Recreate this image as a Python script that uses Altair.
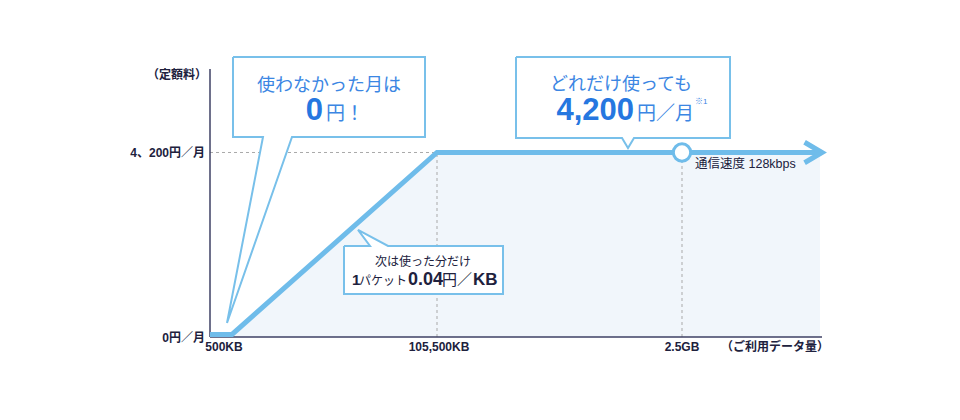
import altair as alt
import pandas as pd

# ---------------- data ----------------
# schematic usage position (x) and monthly fee in yen (y)
line_x = [0, 22, 227, 472, 608]
line_y = [0, 0, 4200, 4200, 4200]
area_x = [0, 22, 227, 472, 610]
area_y = [0, 0, 4200, 4200, 4200]

X_DOMAIN = [0, 612]
Y_DOMAIN = [-58, 6127]
Y_BOTTOM = -58
CAP_X = 472        # 2.5GB point
STEP_X = 227       # 105,500KB point
FLAT_FEE = 4200

x_label_pos = [14, 229, 472, 565]
x_labels = ["500KB", "105,500KB", "2.5GB", "（ご利用データ量）"]
y_label_pos = [5988, 4190, -81]
y_labels = ["（定額料）", "4、200円／月", "0円／月"]

# callout boxes: rect extents and tail triangles
box_grp = ["a", "b", "c"]
box_x1 = [23, 306, 134]
box_x2 = [215, 520, 293]
box_y1 = [4558, 4535, 935]
box_y2 = [6404, 6404, 2042]
# tail: base y, base x (left/right), tip x / y
tail_base_y = [4558, 4535, 2042]
tail_base_l = [53, 412, 160]
tail_base_r = [82, 424, 178]
tail_tip_x = [17, 418, 148]
tail_tip_y = [265, 4304, 2412]

BLUE = "#3b86e3"
BLUE_D = "#2677e0"
LINE = "#6fbcea"
OUT = "#78c0ea"
DARK = "#20213d"
AXIS = "#3e4064"
FILL = "#f1f6fb"
GRID = "#a9a9a9"
FONT = "Liberation Sans, Noto Sans CJK JP"

X = lambda f="x": alt.X(f"{f}:Q", scale=alt.Scale(domain=X_DOMAIN, nice=False, zero=False), axis=None, stack=None)
Y = lambda f="y": alt.Y(f"{f}:Q", scale=alt.Scale(domain=Y_DOMAIN, nice=False, zero=False), axis=None, stack=None)

# ---------------- layers ----------------
area_df = pd.DataFrame({"x": area_x, "y": area_y, "b": [Y_BOTTOM] * len(area_x)})
area = alt.Chart(area_df).mark_area(color=FILL, opacity=1).encode(x=X(), y=Y(), y2="b:Q")

rule_df = pd.DataFrame({
    "x": [0, STEP_X, CAP_X], "x2": [STEP_X, STEP_X, CAP_X],
    "y": [FLAT_FEE, Y_BOTTOM, Y_BOTTOM], "y2": [FLAT_FEE, FLAT_FEE, FLAT_FEE],
})
grid = alt.Chart(rule_df).mark_rule(color=GRID, strokeDash=[3, 3], strokeWidth=1).encode(
    x=X(), x2="x2:Q", y=Y(), y2="y2:Q")

axis_df = pd.DataFrame({
    "x": [0, 0], "x2": [0, X_DOMAIN[1]],
    "y": [Y_BOTTOM, Y_BOTTOM], "y2": [Y_DOMAIN[1], Y_BOTTOM],
})
axes = alt.Chart(axis_df).mark_rule(color=AXIS, strokeWidth=1.5).encode(
    x=X(), x2="x2:Q", y=Y(), y2="y2:Q")

line_df = pd.DataFrame({"x": line_x, "y": line_y})
line = alt.Chart(line_df).mark_line(color=LINE, strokeWidth=5, strokeJoin="miter",
                                     strokeCap="butt").encode(x=X(), y=Y())

arrow_df = pd.DataFrame({"x": [X_DOMAIN[1]], "y": [FLAT_FEE]})
arrow = alt.Chart(arrow_df).mark_point(shape="M-1.7,-1L0,0L-1.7,1", filled=False, stroke=LINE,
                                        strokeWidth=5, size=420, opacity=1,
                                        strokeJoin="miter").encode(x=X(), y=Y())

circ_df = pd.DataFrame({"x": [CAP_X], "y": [FLAT_FEE]})
circ = alt.Chart(circ_df).mark_point(shape="circle", filled=True, fill="white", stroke=LINE,
                                      strokeWidth=3, size=300, opacity=1).encode(x=X(), y=Y())

# callout fills
rect_df = pd.DataFrame({"g": box_grp, "x": box_x1, "x2": box_x2, "y": box_y1, "y2": box_y2})
rects = alt.Chart(rect_df).mark_rect(color="white", opacity=1).encode(
    x=X(), x2="x2:Q", y=Y(), y2="y2:Q")

tail_rows = []
for g, by, bl, br, tx, ty in zip(box_grp, tail_base_y, tail_base_l, tail_base_r, tail_tip_x, tail_tip_y):
    tail_rows.append({"g": g, "y": by, "x": bl, "x2": br})
    tail_rows.append({"g": g, "y": ty, "x": tx, "x2": tx})
tails = alt.Chart(pd.DataFrame(tail_rows)).mark_area(color="white", opacity=1, orient="horizontal").encode(
    y=Y(), x=X(), x2="x2:Q", detail="g:N")

# callout outlines
out_rows = []
for i, g in enumerate(box_grp):
    x1, x2, y1, y2 = box_x1[i], box_x2[i], box_y1[i], box_y2[i]
    bl, br, tx, ty = tail_base_l[i], tail_base_r[i], tail_tip_x[i], tail_tip_y[i]
    if g == "c":  # tail on top edge
        pts = [(x1, y2), (bl, y2), (tx, ty), (br, y2), (x2, y2), (x2, y1), (x1, y1), (x1, y2)]
    else:         # tail on bottom edge
        pts = [(x1, y2), (x2, y2), (x2, y1), (br, y1), (tx, ty), (bl, y1), (x1, y1), (x1, y2)]
    for k, (px, py) in enumerate(pts):
        out_rows.append({"g": g, "o": k, "x": px, "y": py})
outlines = alt.Chart(pd.DataFrame(out_rows)).mark_line(color=OUT, strokeWidth=2, strokeJoin="miter").encode(
    x=X(), y=Y(), order="o:Q", detail="g:N")

# texts
texts = [
    # x, y, text, size, color, weight, align, baseline
    (119, 5619, "使わなかった月は", 18, BLUE, "normal", "center", "alphabetic"),
    (113, 4950, "0", 31, BLUE_D, "bold", "right", "alphabetic"),
    (116, 4950, "円！", 19, BLUE, "normal", "left", "alphabetic"),
    (411, 5642, "どれだけ使っても", 18, BLUE, "normal", "center", "alphabetic"),
    (424, 4950, "4,200", 31, BLUE_D, "bold", "right", "alphabetic"),
    (427, 4950, "円／月", 19, BLUE, "normal", "left", "alphabetic"),
    (485, 5330, "※1", 8, BLUE, "normal", "left", "alphabetic"),
    (213, 1581, "次は使った分だけ", 12, DARK, "normal", "center", "alphabetic"),
    (142, 1142, "1", 15, DARK, "bold", "left", "alphabetic"),
    (197, 1142, "パケット", 12, DARK, "normal", "right", "alphabetic"),
    (198, 1142, "0.04", 18, DARK, "bold", "left", "alphabetic"),
    (232, 1142, "円／", 15, DARK, "normal", "left", "alphabetic"),
    (263, 1142, "KB", 17, DARK, "bold", "left", "alphabetic"),
    (485, 3935, "通信速度 128kbps", 12.5, DARK, "normal", "left", "middle"),
]
for p, t in zip(y_label_pos, y_labels):
    texts.append((-3 if t.startswith("（") else -5, p, t, 12, DARK, "bold", "right", "middle"))
for p, t in zip(x_label_pos, x_labels):
    texts.append((p, -288, t, 12, DARK, "bold", "center", "middle"))

tdf = pd.DataFrame(texts, columns=["x", "y", "t", "fs", "c", "w", "a", "bl"])
text_layers = []
for (w, a, bl), sub in tdf.groupby(["w", "a", "bl"]):
    text_layers.append(
        alt.Chart(sub.drop(columns=["w", "a", "bl"])).mark_text(
            font=FONT, fontWeight=w, align=a, baseline=bl
        ).encode(x=X(), y=Y(), text="t:N",
                 size=alt.Size("fs:Q", scale=None),
                 color=alt.Color("c:N", scale=None))
    )

chart = alt.layer(area, grid, axes, line, arrow, circ, tails, rects, outlines, *text_layers).properties(
    width=612, height=268,
    padding={"left": 202, "top": 61, "right": 120, "bottom": 60},
    autosize=alt.AutoSizeParams(type="none"),
    background="white",
).configure_view(stroke=None)

chart.save("out.html", embed_options={"renderer": "svg", "actions": False})
